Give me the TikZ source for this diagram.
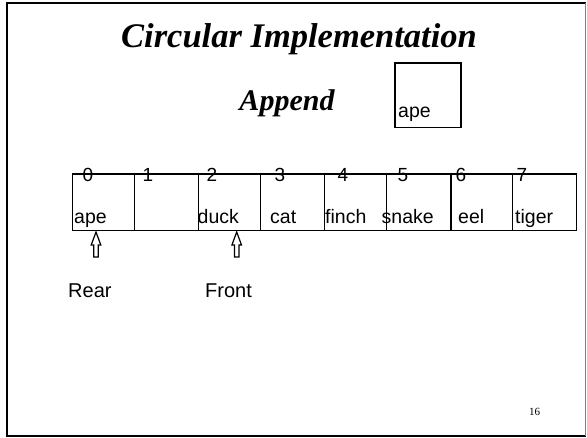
\documentclass[tikz,border=0pt]{standalone}
\usepackage{fontspec}
\setmainfont{Liberation Sans}
\newfontfamily\titlefont{Liberation Serif}
\begin{document}
\begin{tikzpicture}[x=1pt,y=-1pt,
  cellbox/.style={draw=black,line width=1.4pt,inner sep=0pt},
  celltext/.style={anchor=base west,inner sep=0pt,font=\fontsize{19.5}{22}\selectfont},
  idxtext/.style={anchor=base,inner sep=0pt,font=\fontsize{19}{22}\selectfont},
  ptrtext/.style={anchor=base west,inner sep=0pt,font=\fontsize{20}{23}\selectfont},
  ptrarrow/.style={draw=black,line width=1.2pt,fill=white,line join=miter},
  headline/.style={anchor=base,inner sep=0pt,font=\titlefont\bfseries\itshape\fontsize{#1}{38}\selectfont}]
\useasboundingbox (0,0) rectangle (587,437);
% slide frame
\draw[black,line width=2pt] (585.5,2.5) -- (6.5,2.5) -- (6.5,435.5) -- (585.5,435.5);
\draw[gray,line width=1.2pt] (585.5,2.5) -- (585.5,435.5);
% headings
\node[headline=34.5] (title) at (299,47) {Circular Implementation};
\node[headline=30] (op) at (287,110) {Append};
% new item waiting to be appended
\draw[cellbox] (395,63) rectangle (461,127.5);
\node[celltext] (newitem) at (398,117) {ape};
% array cells
\foreach \i/\l/\r in {0/72.3/134.5,1/134.5/198.7,2/198.7/260.7,3/260.7/324.5,4/324.5/386.7,5/386.7/451,6/451/512.3,7/512.3/576.7}{
  \path (\l,174) coordinate (c\i nw) (\r,230.5) coordinate (c\i se);
}
\foreach \i/\x in {0/88,1/148,2/212,3/280,4/343,5/403,6/461,7/522}{
  \node[idxtext] (n\i) at (\x,181.5) {\i};
}
\foreach \i in {0,...,7}{
  \draw[cellbox] (c\i nw) rectangle (c\i se);
}
\node[celltext] (v0) at (74,223) {ape};
\node[celltext] (v2) at (197.5,223) {duck};
\node[celltext] (v3) at (270,223) {cat};
\node[celltext] (v4) at (325,223) {finch};
\node[celltext] (v5) at (381.5,223) {snake};
\node[celltext] (v6) at (458,223) {eel};
\node[celltext] (v7) at (515,223) {tiger};
% rear and front pointers
\foreach \x in {96,236.7}{
  \draw[ptrarrow] (\x,232) -- (\x+4.8,245) -- (\x+2.3,245) -- (\x+2.3,257) -- (\x-2.3,257) -- (\x-2.3,245) -- (\x-4.8,245) -- cycle;
}
\node[ptrtext] (rear) at (68,297) {Rear};
\node[ptrtext] (front) at (205,297) {Front};
% page number
\node[anchor=base,inner sep=0pt,font=\titlefont\fontsize{11}{13}\selectfont] (page) at (534.5,415) {16};
\end{tikzpicture}
\end{document}
